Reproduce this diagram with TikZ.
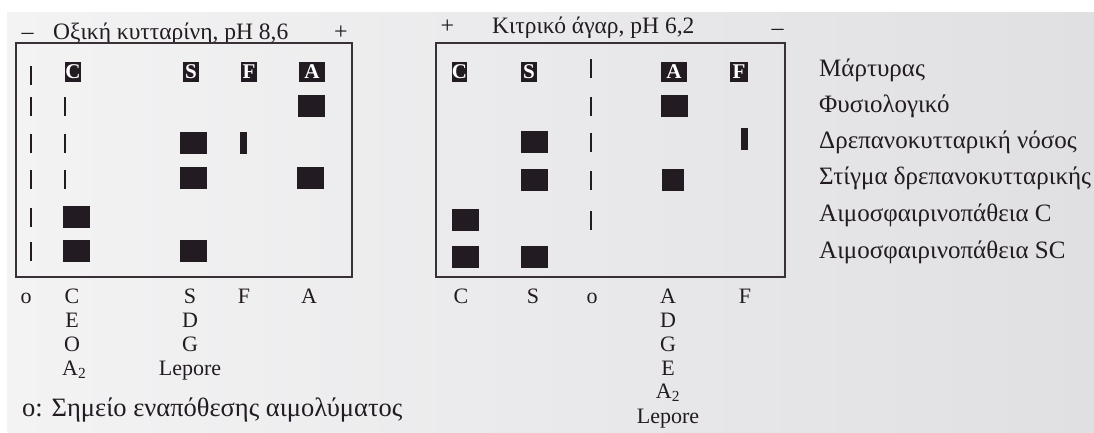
\documentclass[tikz,border=0pt]{standalone}
\usepackage{fontspec}
\setmainfont{Liberation Serif}
\definecolor{ink}{RGB}{34,27,33}
\definecolor{frame}{RGB}{58,48,56}
\definecolor{paperA}{RGB}{243,243,244}
\definecolor{paperB}{RGB}{224,224,227}
\begin{document}
\begin{tikzpicture}[x=1pt,y=-1pt,
  txt/.style={inner sep=0pt,text=ink,font=\fontsize{25}{28}\selectfont},
  lbl/.style={txt,anchor=base west},
  ctr/.style={txt,anchor=base,font=\fontsize{22}{24}\selectfont},
  head/.style={lbl,font=\fontsize{23.5}{27}\selectfont},
  sign/.style={txt,anchor=base,font=\fontsize{24}{27}\selectfont},
  tag/.style={fill=ink,text=white,inner sep=0pt,minimum height=20pt,
    font=\fontsize{21}{22}\selectfont\bfseries},
  band/.style={fill=ink,inner sep=0pt,minimum width=27pt,minimum height=22pt},
  thinband/.style={fill=ink,inner sep=0pt,minimum width=7pt,minimum height=22pt},
  tick/.style={fill=ink,inner sep=0pt,minimum width=2pt,minimum height=19pt},
  gel/.style={draw=frame,line width=1.3pt}]
\useasboundingbox (0,0) rectangle (1094,432);
\fill[white] (0,0) rectangle (1094,432);
\shade[left color=paperA,right color=paperB] (7,12) rectangle (1094,432);

% ---------- cellulose acetate, pH 8.6 ----------
\node[sign] (lminus) at (27.5,39) {–};
\node[head] (ltitle) at (53,39) {Οξική κυτταρίνη, pH 8,6};
\node[sign] (lplus) at (341,39) {+};
\draw[gel] (16,43) rectangle (352,277);

% application point
\foreach \y [count=\i] in {75,106,143,179,217,251}
  \node[tick] (lo\i) at (31,\y) {};
% row 1: markers
\node[tag,minimum width=15pt] (lC) at (73,72) {C};
\node[tag,minimum width=16pt] (lS) at (191,72) {S};
\node[tag,minimum width=16pt] (lF) at (249,72) {F};
\node[tag,minimum width=26pt] (lA) at (312,72) {A};
% C column
\node[tick] (lc2) at (65,106) {};
\node[tick] (lc3) at (65,143) {};
\node[tick] (lc4) at (65,179) {};
\node[band] (lc5) at (76,217) {};
\node[band] (lc6) at (76,251) {};
% S column
\node[band] (ls3) at (193.5,143) {};
\node[band] (ls4) at (193.5,178) {};
\node[band] (ls6) at (193,251) {};
% F column
\node[thinband] (lf3) at (243.5,143) {};
% A column
\node[band] (la2) at (311.5,106) {};
\node[band] (la4) at (310.5,178) {};

% bottom labels
\node[ctr] (lbo) at (26,303) {o};
\node[ctr] (lbC) at (72,303) {C};
\node[ctr] (lbE) at (72,327) {E};
\node[ctr] (lbO) at (72,351) {O};
\node[ctr,anchor=base west] (lbA2) at (62,375) {A\textsubscript{2}};
\node[ctr] (lbS) at (190,303) {S};
\node[ctr] (lbD) at (190,327) {D};
\node[ctr] (lbG) at (190,351) {G};
\node[ctr] (lbL) at (190,375) {Lepore};
\node[ctr] (lbF) at (244,303) {F};
\node[ctr] (lbA) at (309,303) {A};

\node[lbl,font=\fontsize{26.5}{30}\selectfont] (note) at (22,416)
  {o: Σημείο εναπόθεσης αιμολύματος};

% ---------- citrate agar, pH 6.2 ----------
\node[sign] (rplus) at (447.5,33) {+};
\node[head] (rtitle) at (492,33) {Κιτρικό άγαρ, pH 6,2};
\node[sign] (rminus) at (777.5,35) {–};
\draw[gel] (436,43) rectangle (785,277);

% application point
\foreach \y [count=\i] in {68,106,142,180,220}
  \node[tick] (ro\i) at (591,\y) {};
% row 1: markers
\node[tag,minimum width=15pt] (rC) at (459.5,72) {C};
\node[tag,minimum width=16pt] (rS) at (529,72) {S};
\node[tag,minimum width=26pt] (rA) at (674,72) {A};
\node[tag,minimum width=18pt] (rF) at (739,72) {F};
% C column
\node[band] (rc5) at (465.5,220) {};
\node[band] (rc6) at (465.5,257) {};
% S column
\node[band] (rs3) at (534.5,142) {};
\node[band] (rs4) at (534.5,180) {};
\node[band] (rs6) at (534.5,257) {};
% A column
\node[band] (ra2) at (674.5,105.5) {};
\node[band,minimum width=22pt] (ra4) at (672.5,180) {};
% F column
\node[thinband] (rf3) at (744.5,139) {};

% bottom labels
\node[ctr] (rbC) at (461,303) {C};
\node[ctr] (rbS) at (533,303) {S};
\node[ctr] (rbo) at (592,303) {o};
\node[ctr] (rbA) at (668,303) {A};
\node[ctr] (rbD) at (668,327) {D};
\node[ctr] (rbG) at (668,351) {G};
\node[ctr] (rbE) at (668,375) {E};
\node[ctr] (rbA2) at (668,398) {A\textsubscript{2}};
\node[ctr] (rbL) at (668,423) {Lepore};
\node[ctr] (rbF) at (745,303) {F};

% ---------- phenotype legend ----------
\node[lbl] (k1) at (819,76) {Μάρτυρας};
\node[lbl] (k2) at (819,112) {Φυσιολογικό};
\node[lbl] (k3) at (819,148) {Δρεπανοκυτταρική νόσος};
\node[lbl] (k4) at (819,184) {Στίγμα δρεπανοκυτταρικής};
\node[lbl] (k5) at (819,221) {Αιμοσφαιρινοπάθεια C};
\node[lbl] (k6) at (819,258) {Αιμοσφαιρινοπάθεια SC};
\end{tikzpicture}
\end{document}
